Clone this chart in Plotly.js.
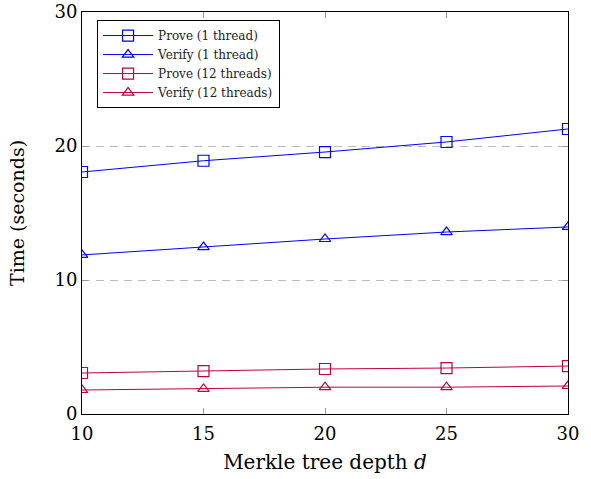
<!DOCTYPE html>
<html><head><meta charset="utf-8">
<script src="https://cdn.plot.ly/plotly-3.0.1.min.js"></script>
<style>body{margin:0;padding:0;background:#fff}#plot{width:591px;height:479px}</style>
</head><body><div id="plot"></div>
<script>
const depth = [10, 15, 20, 25, 30];
const prove1 = [18.06, 18.9, 19.55, 20.3, 21.27];
const verify1 = [11.87, 12.46, 13.06, 13.58, 13.96];
const prove12 = [3.06, 3.2, 3.36, 3.43, 3.58];
const verify12 = [1.79, 1.87, 2.0, 2.0, 2.09];
const xTicks = [10, 15, 20, 25, 30];
const yTicks = [0, 10, 20, 30];

const blue = '#0000ff';
const purple = 'rgb(191,0,64)';
function tr(name, y, color, sym) {
  return {x: depth, y: y, name: name, type: 'scatter', mode: 'lines+markers',
    line: {color: color, width: 1},
    marker: {symbol: sym, size: sym.startsWith('square') ? 11 : 10, color: color, line: {color: color, width: 1.2}}};
}
const data = [
  tr('Prove (1 thread)', prove1, blue, 'square-open'),
  tr('Verify (1 thread)', verify1, blue, 'triangle-up-open'),
  tr('Prove (12 threads)', prove12, purple, 'square-open'),
  tr('Verify (12 threads)', verify12, purple, 'triangle-up-open')
];
const font = 'DejaVu Serif, Liberation Serif, serif';
const layout = {
  width: 591, height: 479,
  margin: {l: 82, r: 23, t: 12, b: 65},
  paper_bgcolor: '#fff', plot_bgcolor: '#fff',
  font: {family: font, color: '#000'},
  showlegend: true,
  legend: {x: 0.031, y: 0.98, xanchor: 'left', yanchor: 'top', bgcolor: '#fff',
    bordercolor: '#000', borderwidth: 1, font: {family: font, size: 12, color: '#222'},
    tracegroupgap: 0, itemwidth: 50},
  xaxis: {range: [10, 30], tickvals: xTicks, ticktext: xTicks.map(String),
    showgrid: false, zeroline: false, showline: true, linecolor: '#000', linewidth: 1, mirror: 'ticks',
    ticks: 'inside', ticklen: 6, tickcolor: '#999', tickwidth: 1, ticklabelstandoff: 3,
    tickfont: {family: font, size: 18, color: '#000'},
    title: {text: 'Merkle tree depth <i>d</i>', font: {family: font, size: 20, color: '#000'}, standoff: 12}},
  yaxis: {range: [0, 30], tickvals: yTicks, ticktext: yTicks.map(String),
    showgrid: true, gridcolor: '#bbb', griddash: '8px,6px', gridwidth: 1,
    zeroline: false, showline: true, linecolor: '#000', linewidth: 1, mirror: 'ticks',
    ticks: 'inside', ticklen: 6, tickcolor: '#999', tickwidth: 1,
    tickfont: {family: font, size: 18, color: '#000'},
    title: {text: 'Time (seconds)', font: {family: font, size: 19, color: '#000'}, standoff: 24}}
};
Plotly.newPlot('plot', data, layout, {displayModeBar: false, staticPlot: true});
</script></body></html>
